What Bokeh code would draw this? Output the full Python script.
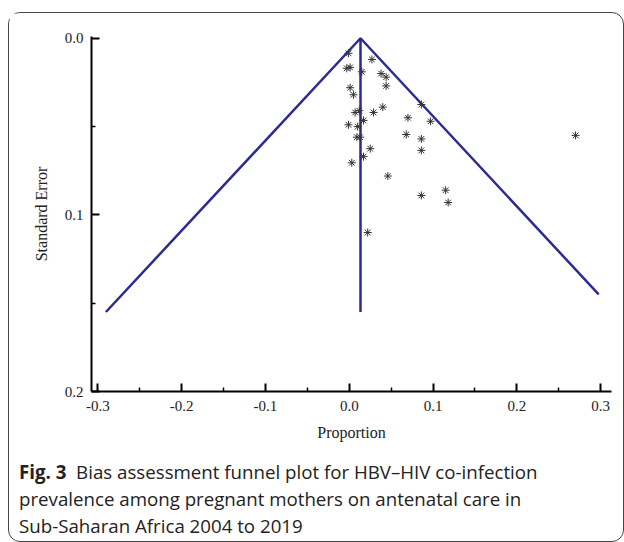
from bokeh.plotting import figure
from bokeh.models import Range1d, FixedTicker, NumeralTickFormatter, Div, ColumnDataSource
from bokeh.layouts import column
from bokeh.embed import file_html
from bokeh.resources import INLINE

# ---- data ----
proportion = [-0.001, 0.027, -0.003, 0.001, 0.015, 0.038, 0.044, 0.044, 0.001, 0.005,
              0.007, 0.012, 0.029, 0.040, 0.086, 0.070, 0.097, -0.001, 0.010, 0.017,
              0.009, 0.013, 0.068, 0.086, 0.025, 0.086, 0.017, 0.003, 0.046, 0.086,
              0.115, 0.118, 0.022, 0.270]
std_error = [0.0085, 0.012, 0.017, 0.0165, 0.019, 0.020, 0.022, 0.027, 0.028, 0.032,
             0.042, 0.041, 0.042, 0.039, 0.0375, 0.045, 0.047, 0.049, 0.050, 0.0465,
             0.056, 0.056, 0.0545, 0.057, 0.0625, 0.0635, 0.067, 0.0705, 0.078, 0.089,
             0.086, 0.093, 0.110, 0.055]
pooled = 0.0134
z = 1.96
se_end_left = 0.155
se_end_right = 0.145
x_ticks = [-0.3, -0.2, -0.1, 0.0, 0.1, 0.2, 0.3]
x_minor = [-0.25, -0.15, -0.05, 0.05, 0.15, 0.25]
y_ticks = [0.0, 0.1, 0.2]
y_minor = [0.05, 0.15]

navy = "#2b2b94"
serif = "Liberation Serif"

p = figure(width=604, height=440, output_backend="svg", toolbar_location=None,
           x_range=Range1d(-0.3076, 0.3129), y_range=Range1d(0.2, -0.001),
           min_border_left=82, min_border_right=2, min_border_top=23, min_border_bottom=62)
p.outline_line_color = None
p.xgrid.visible = False
p.ygrid.visible = False
p.background_fill_color = "white"
p.border_fill_color = "white"

# funnel
p.line([pooled - z * se_end_left, pooled, pooled + z * se_end_right],
       [se_end_left, 0.0, se_end_right], line_color=navy, line_width=2.5)
p.line([pooled, pooled], [0.0, se_end_left], line_color=navy, line_width=2.5)

src = ColumnDataSource(dict(x=proportion, y=std_error))
p.scatter("x", "y", source=src, marker="asterisk", size=8, line_color="#333333", line_width=1)

for ax, ticks, minor in ((p.xaxis[0], x_ticks, x_minor), (p.yaxis[0], y_ticks, y_minor)):
    ax.ticker = FixedTicker(ticks=ticks, minor_ticks=minor)
    ax.formatter = NumeralTickFormatter(format="0.0")
    ax.axis_line_width = 2
    ax.axis_line_color = "black"
    ax.major_tick_in = 8
    ax.major_tick_out = 0
    ax.minor_tick_in = 4
    ax.minor_tick_out = 0
    ax.major_tick_line_width = 2
    ax.minor_tick_line_width = 1.5
    ax.major_label_text_font = serif
    ax.major_label_text_font_size = "15px"
    ax.major_label_text_color = "#222222"
    ax.axis_label_text_font = serif
    ax.axis_label_text_font_style = "normal"
    ax.axis_label_text_color = "#222222"

p.xaxis.axis_label = "Proportion"
p.xaxis.axis_label_text_font_size = "16px"
p.xaxis.major_label_standoff = 9
p.xaxis.axis_label_standoff = 10
p.yaxis.axis_label = "Standard Error"
p.yaxis.axis_label_text_font_size = "16px"
p.yaxis.major_label_standoff = 8
p.yaxis.axis_label_standoff = 12

caption = Div(
    text=("<b>Fig. 3</b>&nbsp; Bias assessment funnel plot for HBV\u2013HIV co-infection<br>"
          "prevalence among pregnant mothers on antenatal care in<br>"
          "Sub-Saharan Africa 2004 to 2019"),
    width=604, height=78,
    styles={"font-family": "'Open Sans', sans-serif", "font-size": "18.7px",
            "line-height": "27px", "color": "#222", "padding-left": "5px",
            "padding-top": "0px"})

layout = column(p, caption, margin=(12, 0, 0, 8),
                styles={"border": "1px solid #444", "border-radius": "12px",
                        "background": "white"})

open("out.html", "w").write(file_html(layout, INLINE))
